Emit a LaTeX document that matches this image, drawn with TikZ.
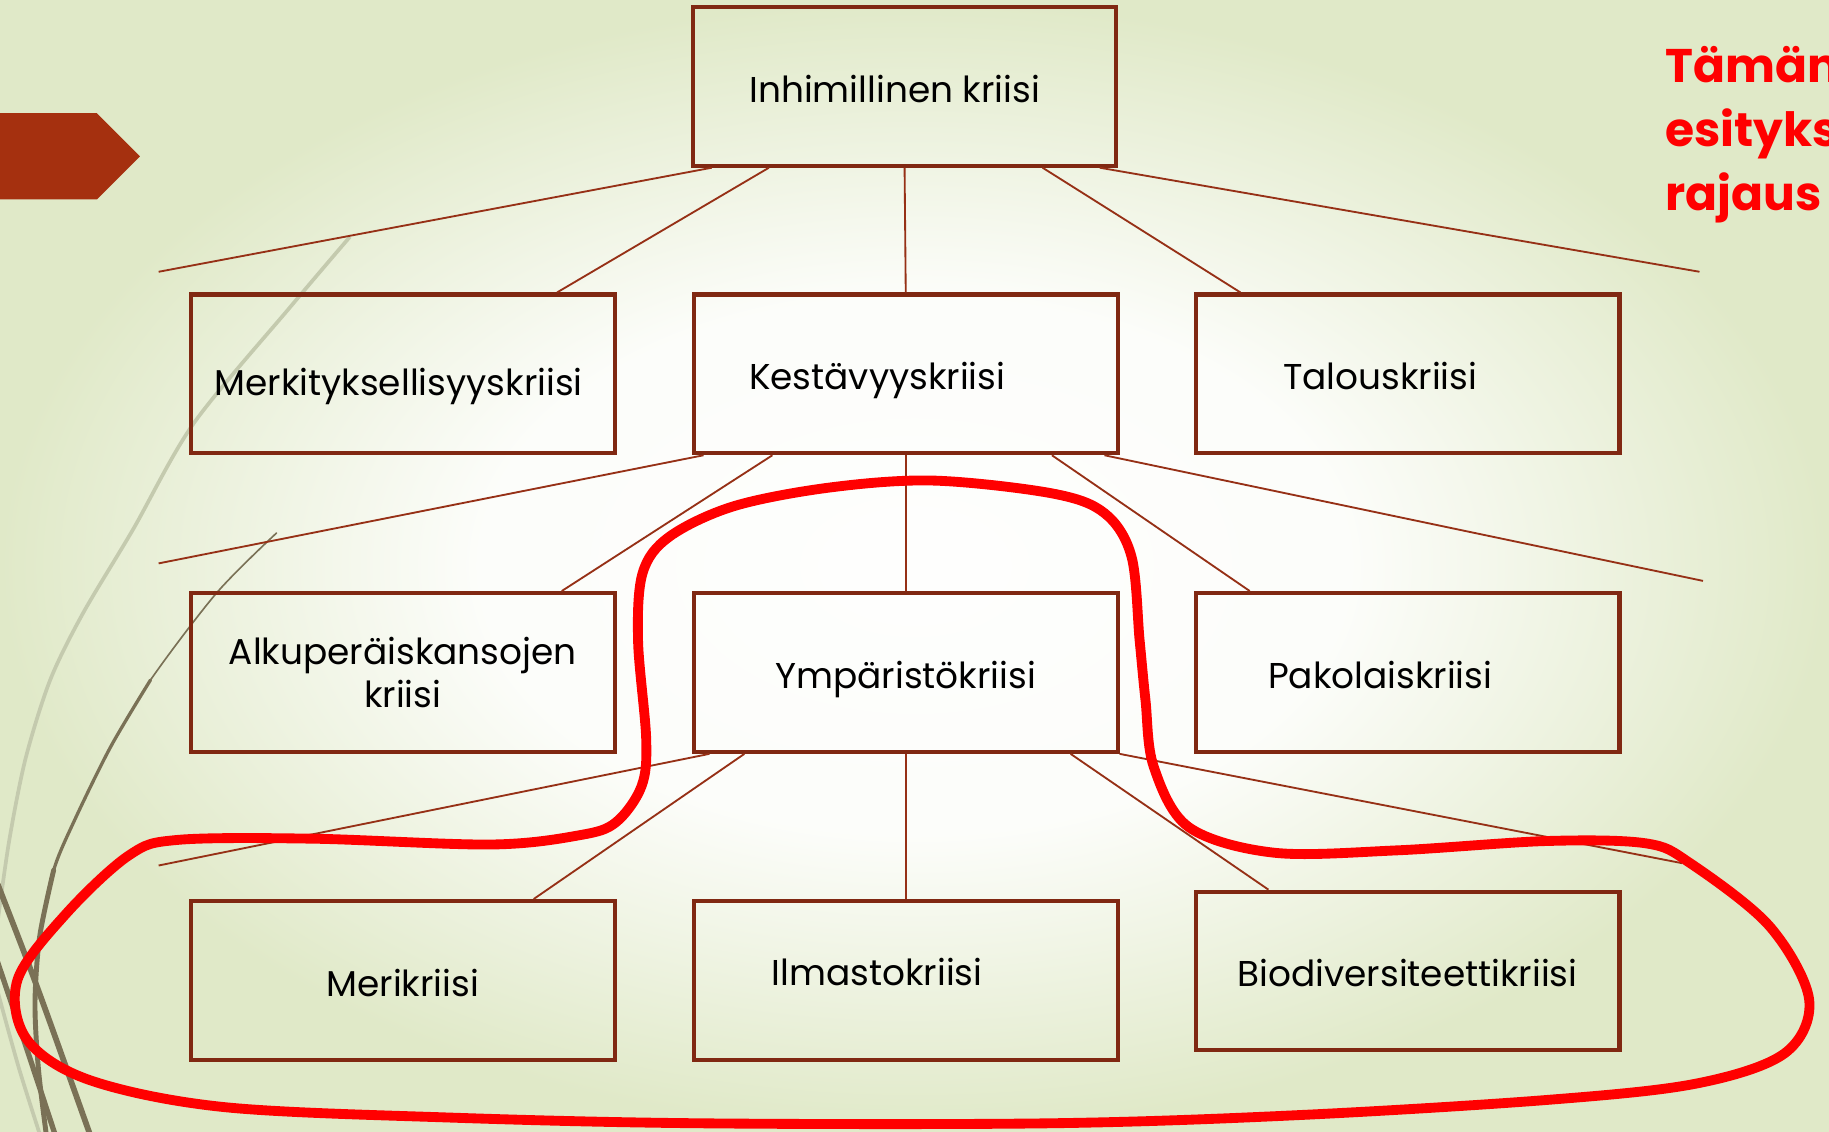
\documentclass[tikz,border=0pt]{standalone}
\usepackage{fontspec}
\setmainfont{Poppins}
\definecolor{bggreen}{RGB}{224,233,200}
\definecolor{boxbrown}{RGB}{128,40,18}
\definecolor{linebrown}{RGB}{150,48,22}
\definecolor{chevronred}{RGB}{165,48,15}
\definecolor{loopred}{RGB}{255,0,0}
\definecolor{stemgrey}{RGB}{122,113,86}
\definecolor{stemfaint}{RGB}{196,202,174}
\pgfdeclareradialshading{slidebg}{\pgfpoint{0bp}{0bp}}{color(0bp)=(white!97!bggreen); color(12bp)=(white!90!bggreen); color(25bp)=(bggreen); color(50bp)=(bggreen)}
\tikzset{
  crisis/.style={draw=boxbrown, line width=1pt, rectangle, minimum height=1.36cm, minimum width=3.63cm, inner sep=0pt, font=\fontsize{8.75}{10.6}\selectfont},
  onerow/.style={crisis, text height=7.7pt, text depth=0pt},
  branch/.style={draw=linebrown, line width=0.45pt},
  rajausline/.style={draw=loopred, line width=2.4pt, line join=round},
  stem/.style={draw=stemgrey, line cap=round}
}
\begin{document}
\begin{tikzpicture}[x=0.01cm, y=-0.01cm]
\clip (0,0) rectangle (1568,970);
\shade[shading=slidebg] (0,0) rectangle (1568,970);
\fill[chevronred] (0,97) -- (83,97) -- (120,134) -- (83,171) -- (0,171) -- cycle;
\draw[stemfaint, line width=0.9pt] plot[smooth] coordinates {(300,203) (249,263) (166,363) (114,454) (71,526) (43,583) (22,650) (8,720) (-2,790)};
\draw[stemfaint, line width=0.9pt] plot[smooth] coordinates {(-2,850) (16,915) (34,972)};
\draw[stem, line width=0.4pt] plot[smooth] coordinates {(237,457) (186,508) (129,583) (95,640)};
\draw[stem, line width=0.8pt] plot[smooth] coordinates {(129,583) (95,640) (64,703) (46,746) (34,803)};
\draw[stem, line width=1.2pt] plot[smooth] coordinates {(46,746) (34,803) (30,860) (33,917) (40,975)};
\draw[stem, line width=1.4pt] (-2,758) .. controls (30,840) .. (78,975);
\draw[stem, line width=1.3pt] (-2,825) .. controls (20,890) .. (48,975);
\node (inhim) [onerow] at (775.5,74) {Inhimillinen kriisi\kern0.17cm};
\node (kestavyys) [onerow] at (776.5,320.5) {Kestävyyskriisi\kern0.49cm};
\node (merkitys) [onerow, node distance=4.31cm, left of=kestavyys] {\raisebox{-0.05cm}{Merkityksellisyyskriisi}\kern0.07cm};
\node (talous) [onerow, node distance=4.30cm, right of=kestavyys] {Talouskriisi\kern0.47cm};
\node (ymparisto) [onerow] at (776.5,576.5) {Ympäristökriisi};
\node (alkuperais) [crisis, align=center, node distance=4.31cm, left of=ymparisto] {Alkuperäiskansojen\\kriisi};
\node (pakolais) [onerow, node distance=4.30cm, right of=ymparisto] {Pakolaiskriisi\kern0.47cm};
\node (ilmasto) [onerow] at (776.5,840.5) {\raisebox{0.09cm}{Ilmastokriisi}\kern0.49cm};
\node (meri) [onerow, node distance=4.31cm, left of=ilmasto] {Merikriisi};
\node (biodiv) [onerow, node distance=4.30cm, right of=ilmasto, yshift=0.08cm] {Biodiversiteettikriisi};
\coordinate (end1l) at (136,233);
\coordinate (end1r) at (1457,233);
\coordinate (end2l) at (136,483);
\coordinate (end2r) at (1460,498);
\coordinate (end3l) at (136,742);
\coordinate (end3r) at (1442,740);
\draw [branch] ([xshift=0.18cm]inhim.south west) -- (end1l);
\draw [branch] ([xshift=0.67cm]inhim.south west) -- ([xshift=-0.51cm]merkitys.north east);
\draw [branch] (inhim.south) -- (kestavyys.north);
\draw [branch] ([xshift=-0.65cm]inhim.south east) -- ([xshift=0.40cm]talous.north west);
\draw [branch] ([xshift=-0.16cm]inhim.south east) -- (end1r);
\draw [branch] ([xshift=0.10cm]kestavyys.south west) -- (end2l);
\draw [branch] ([xshift=0.69cm]kestavyys.south west) -- ([xshift=-0.47cm]alkuperais.north east);
\draw [branch] (kestavyys.south) -- (ymparisto.north);
\draw [branch] ([xshift=-0.58cm]kestavyys.south east) -- ([xshift=0.48cm]pakolais.north west);
\draw [branch] ([xshift=-0.13cm]kestavyys.south east) -- (end2r);
\draw [branch] ([xshift=0.15cm]ymparisto.south west) -- (end3l);
\draw [branch] ([xshift=0.45cm]ymparisto.south west) -- ([xshift=-0.71cm]meri.north east);
\draw [branch] (ymparisto.south) -- (ilmasto.north);
\draw [branch] ([xshift=-0.42cm]ymparisto.south east) -- ([xshift=0.64cm]biodiv.north west);
\draw [branch] (ymparisto.south east) -- (end3r);
\draw [rajausline] plot[smooth cycle, tension=0.55] coordinates {(800,412) (711,418) (629,434) (574,460) (551,491) (547,549) (554,634) (550,674) (528,705) (497,716) (421,724) (268,719) (153,720) (111,733) (57,783) (15,840) (23,891) (77,926) (191,949) (383,958) (600,963) (900,963) (1113,956) (1326,943) (1454,929) (1530,903) (1551,857) (1517,794) (1449,740) (1411,723) (1326,721) (1198,729) (1092,731) (1019,709) (989,657) (982,600) (977,549) (970,477) (947,440) (902,423)};
\node (rajaus) [anchor=north west, inner sep=0pt, align=left, text=loopred, font=\bfseries\fontsize{11.5}{15.6}\selectfont] at (1427,39) {Tämän\\esityksen\\rajaus};
\end{tikzpicture}
\end{document}
